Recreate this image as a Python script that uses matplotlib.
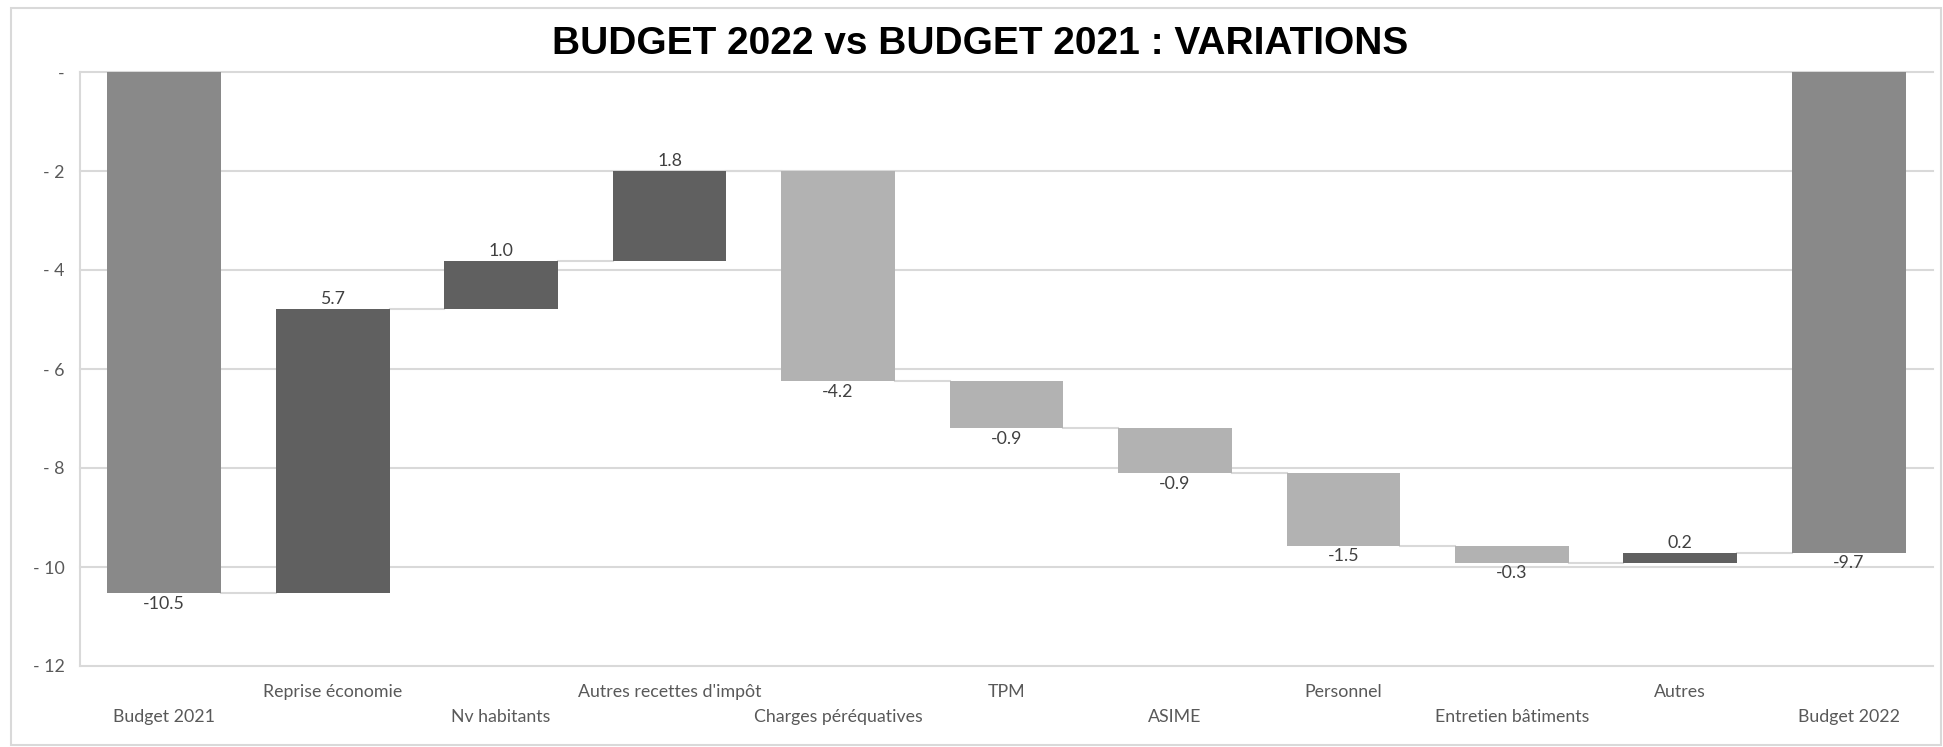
import matplotlib
matplotlib.use("Agg")
import matplotlib.pyplot as plt
from matplotlib.patches import Rectangle
import matplotlib.transforms as mtransforms

categories = ["Budget 2021", "Reprise économie", "Nv habitants", "Autres recettes d'impôt",
              "Charges péréquatives", "TPM", "ASIME", "Personnel", "Entretien bâtiments",
              "Autres", "Budget 2022"]
start_total = -10.53
deltas = [5.74, 0.98, 1.80, -4.24, -0.94, -0.92, -1.46, -0.34, 0.20]
y_ticks = [0, -2, -4, -6, -8, -10, -12]
y_tick_labels = ["-", "- 2", "- 4", "- 6", "- 8", "- 10", "- 12"]
title = "BUDGET 2022 vs BUDGET 2021 : VARIATIONS"

C_TOTAL = "#898989"
C_UP = "#606060"
C_DOWN = "#B2B2B2"
C_GRID = "#D9D9D9"
C_TEXT = "#595959"
C_LABEL = "#404040"
FONT = ["Lato", "DejaVu Sans"]
FS = 12.8

fig = plt.figure(figsize=(19.43, 7.47), dpi=100)
W, H = 1943, 747
ax = fig.add_axes([80 / W, (H - 666) / H, (1933 - 80) / W, (666 - 72) / H])

# compute bars
bottoms, heights, colors, labels, ends = [], [], [], [], []
bottoms.append(0); heights.append(start_total); colors.append(C_TOTAL)
labels.append(start_total); ends.append(start_total)
cum = start_total
for d in deltas:
    bottoms.append(cum); heights.append(d)
    colors.append(C_UP if d > 0 else C_DOWN)
    labels.append(d)
    cum += d
    ends.append(cum)
final_total = cum
bottoms.append(0); heights.append(final_total); colors.append(C_TOTAL)
labels.append(final_total); ends.append(final_total)

x = list(range(len(categories)))
bw = 0.675
ax.bar(x, heights, bottom=bottoms, width=bw, color=colors, zorder=3, linewidth=0)

# connectors
for i in range(len(categories) - 1):
    lvl = ends[i]
    ax.plot([i + bw / 2, i + 1 - bw / 2], [lvl, lvl], color=C_GRID, lw=1.5, zorder=2)

# data labels
for i in range(len(categories)):
    b, h = bottoms[i], heights[i]
    top = max(b, b + h)
    low = min(b, b + h)
    txt = f"{labels[i]:.1f}"
    if i not in (0, len(categories) - 1) and h > 0:
        ax.annotate(txt, (i, top), xytext=(0, 1.5), textcoords="offset points",
                    ha="center", va="bottom", fontsize=FS, color=C_LABEL, family=FONT, zorder=4)
    else:
        ax.annotate(txt, (i, low), xytext=(0, -2), textcoords="offset points",
                    ha="center", va="top", fontsize=FS, color=C_LABEL, family=FONT, zorder=4)

ax.set_xlim(-0.5, len(categories) - 0.5)
ax.set_ylim(-12, 0)
ax.set_yticks(y_ticks)
ax.set_yticklabels(y_tick_labels, fontsize=FS, color=C_TEXT, family=FONT)
ax.tick_params(axis="y", length=0, pad=11)
ax.set_xticks([])
for yv in y_ticks:
    ax.axhline(yv, color=C_GRID, lw=1.5, zorder=1, clip_on=False)
for s in ["top", "right", "bottom"]:
    ax.spines[s].set_visible(False)
ax.spines["left"].set_color(C_GRID)
ax.spines["left"].set_linewidth(1.5)

# category labels in two staggered rows
trans = mtransforms.blended_transform_factory(ax.transData, ax.transAxes)
for i, cat in enumerate(categories):
    yy = -26 / 594 if i % 2 == 1 else -51 / 594
    ax.text(i, yy, cat, transform=trans, ha="center", va="center",
            fontsize=FS, color=C_TEXT, family=FONT)

fig.text(980 / W, 1 - 44 / H, title, ha="center", va="center", fontsize=28,
         fontweight="bold", family=["Liberation Sans Narrow", "Liberation Sans", "DejaVu Sans"],
         color="black")

# chart border
fig.patches.append(Rectangle((11 / W, 2 / H), (1941 - 11) / W, (H - 8 - 2) / H,
                             transform=fig.transFigure, fill=False,
                             edgecolor=C_GRID, lw=1.5))

fig.savefig("out.png", dpi=100, facecolor="white")
